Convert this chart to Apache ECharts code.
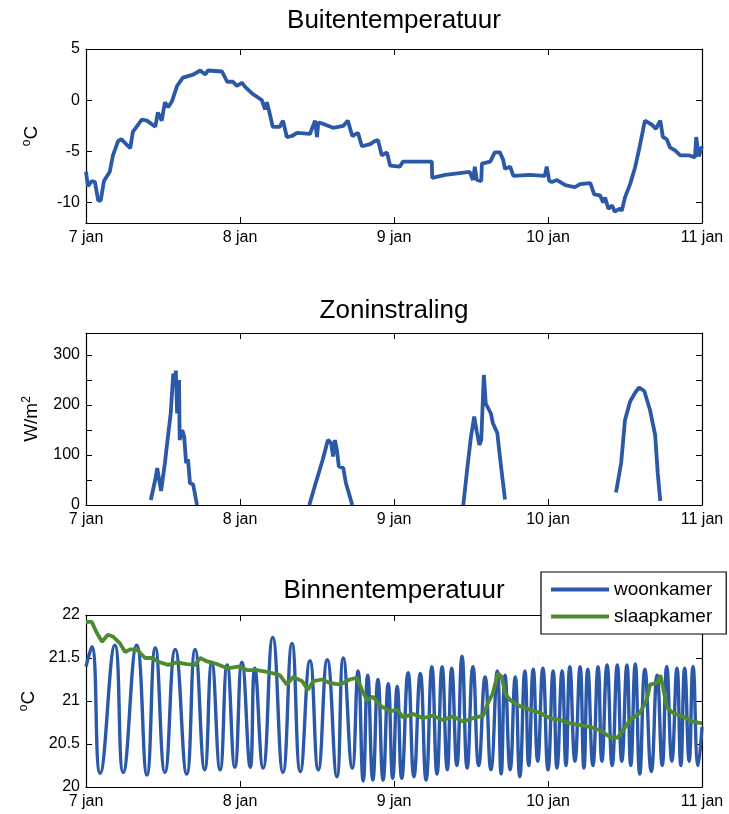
<!DOCTYPE html>
<html>
<head>
<meta charset="utf-8">
<script src="https://cdn.jsdelivr.net/npm/echarts@6/dist/echarts.min.js"></script>
<style>
html, body { margin: 0; padding: 0; background: #fff; }
#chart { width: 729px; height: 814px; }
</style>
</head>
<body>
<div id="chart"></div>
<script>
// tijd in uren vanaf 7 jan 00:00
var dagTicks = [0, 24, 48, 72, 96];

// Buitentemperatuur
var buitenTijd = [0, 0.3, 0.9, 1.4, 1.9, 2.3, 2.8, 3.7, 4.2, 5.0,
    5.5, 6.9, 7.3, 8.7, 9.5, 10.8, 11.2, 11.8, 12.3, 12.8,
    13.4, 14.2, 15.1, 16.7, 17.8, 18.6, 19.0, 21.2, 22.0, 22.9,
    23.5, 24.3, 24.8, 26.0, 27.4, 27.9, 28.2, 28.7, 29.1, 30.2,
    30.7, 31.3, 32.1, 32.9, 34.9, 35.7, 36.0, 36.2, 36.9, 38.5,
    40.1, 40.8, 41.5, 42.4, 43.0, 44.3, 45.0, 45.5, 46.1, 46.9,
    47.4, 48.9, 49.4, 53.9, 53.95, 56.0, 59.8, 60.3, 60.6, 60.9,
    61.6, 61.7, 63.0, 63.7, 64.5, 65.0, 65.3, 66.1, 66.6, 69.2,
    71.5, 71.8, 72.2, 72.6, 73.4, 74.7, 75.4, 76.2, 77.0, 78.6,
    79.2, 80.1, 80.6, 80.9, 81.4, 82.0, 82.4, 83.2, 83.5, 84.0,
    84.8, 85.6, 86.3, 87.1, 88.2, 88.8, 89.5, 89.9, 90.5, 91.0,
    91.8, 92.6, 94.1, 94.9, 95.1, 95.5, 96.0];
var buitenTemp = [-7.0, -8.4, -7.9, -8.0, -9.8, -9.8, -7.9, -7.0, -5.4, -4.0,
    -3.8, -4.7, -3.1, -1.9, -2.0, -2.6, -1.2, -2.0, -0.2, -0.7,
    -0.1, 1.4, 2.2, 2.5, 2.9, 2.5, 2.9, 2.8, 1.8, 1.8,
    1.4, 1.7, 1.3, 0.6, 0.0, -0.9, -0.2, -1.5, -2.6, -2.6,
    -2.0, -3.6, -3.5, -3.2, -3.3, -2.0, -3.6, -2.2, -2.3, -2.7,
    -2.5, -2.0, -3.5, -3.2, -4.5, -4.3, -4.0, -3.9, -5.4, -5.1,
    -6.4, -6.5, -6.0, -6.0, -7.6, -7.3, -7.0, -7.8, -6.5, -7.8,
    -7.9, -6.2, -6.0, -5.1, -5.1, -5.8, -6.7, -6.5, -7.4, -7.3,
    -7.4, -6.5, -7.9, -8.0, -7.8, -8.3, -8.4, -8.5, -8.2, -8.1,
    -9.2, -9.3, -10.0, -9.5, -10.6, -10.3, -10.9, -10.6, -10.8, -9.5,
    -8.2, -6.5, -4.5, -2.0, -2.4, -2.8, -2.0, -3.6, -3.8, -4.6,
    -4.9, -5.4, -5.4, -5.6, -3.6, -5.5, -4.5];

// Zoninstraling (null = geen meting)
var zonTijd = [10.1, 10.8, 11.1, 11.4, 11.7, 12.3, 12.6, 12.9, 13.2, 13.6, 13.9, 14.0, 14.2, 14.5, 14.6, 15.0, 15.3, 15.6, 15.9, 16.2, 16.7, 17.3,
    24,
    34.8, 35.8, 36.9, 37.7, 38.2, 38.5, 38.8, 39.1, 39.4, 40.1, 40.5, 41.5,
    50,
    58.8, 59.4, 60.0, 60.5, 60.9, 61.3, 61.6, 62.0, 62.3, 63.1, 63.4, 64.1, 64.5, 64.8, 65.3,
    75,
    82.6, 83.4, 84.0, 84.8, 85.6, 86.2, 87.0, 87.9, 88.7, 89.1, 89.5];
var zonWaarde = [10, 51, 74, 51, 28, 84, 118, 117, 183, 263, 246, 269, 183, 250, 130, 150, 137, 84, 91, 44, 41, 0,
    null,
    0, 44, 91, 130, 124, 97, 130, 110, 77, 74, 44, 0,
    null,
    0, 71, 137, 177, 147, 120, 130, 260, 203, 183, 164, 144, 97, 64, 11,
    null,
    25, 84, 170, 207, 225, 235, 228, 190, 140, 64, 8];

// Binnentemperatuur
var woonTijd = [0.0, 0.9, 2.2, 4.5, 5.8, 7.9, 9.5, 10.8, 12.3, 13.9,
    15.7, 17.0, 18.5, 19.6, 20.9, 22.0, 23.2, 24.3, 25.6, 26.3,
    27.6, 29.1, 30.7, 32.1, 33.4, 34.9, 36.2, 37.6, 39.1, 40.1,
    41.5, 42.4, 43.2, 43.9, 44.7, 45.5, 46.3, 47.1, 47.8, 48.5,
    49.2, 50.2, 51.1, 52.1, 53.0, 53.9, 54.7, 55.5, 56.3, 57.0,
    57.8, 58.6, 59.4, 60.3, 61.2, 62.2, 63.1, 64.1, 64.7, 65.3,
    66.1, 66.9, 67.6, 68.4, 69.0, 69.7, 70.4, 71.2, 72.0, 72.8,
    73.4, 74.2, 74.8, 75.4, 76.2, 77.0, 77.6, 78.2, 79.0, 79.8,
    80.4, 81.2, 82.0, 82.8, 83.5, 84.3, 84.9, 85.6, 86.3, 87.1,
    88.1, 89.0, 89.8, 90.5, 91.3, 92.1, 92.7, 93.3, 94.0, 94.6,
    95.4, 96.0];
var woonTemp = [21.40, 21.63, 20.16, 21.65, 20.17, 21.65, 20.14, 21.62, 20.17, 21.60,
    20.15, 21.60, 20.20, 21.45, 20.20, 21.42, 20.23, 21.45, 20.23, 21.38,
    20.22, 21.74, 20.17, 21.67, 20.18, 21.47, 20.20, 21.48, 20.12, 21.50,
    20.22, 21.35, 20.07, 21.30, 20.08, 21.25, 20.08, 21.20, 20.10, 21.17,
    20.10, 21.33, 20.12, 21.32, 20.08, 21.40, 20.15, 21.40, 20.20, 21.38,
    20.25, 21.52, 20.22, 21.40, 20.25, 21.28, 20.20, 21.35, 20.15, 21.30,
    20.20, 21.28, 20.12, 21.35, 20.25, 21.37, 20.30, 21.38, 20.20, 21.35,
    20.22, 21.35, 20.25, 21.40, 20.30, 21.40, 20.22, 21.37, 20.25, 21.40,
    20.30, 21.42, 20.25, 21.42, 20.30, 21.42, 20.25, 21.43, 20.15, 21.37,
    20.18, 21.30, 20.25, 21.40, 20.30, 21.38, 20.25, 21.38, 20.30, 21.40,
    20.25, 20.70];
var slaapTijd = [0.0, 0.9, 1.7, 2.5, 3.4, 4.2, 5.3, 6.1, 6.9, 7.9,
    9.2, 10.3, 11.5, 12.8, 14.2, 15.7, 17.0, 17.8, 18.9, 20.4,
    22.0, 23.7, 25.1, 26.6, 28.2, 30.2, 31.3, 32.3, 33.7, 34.6,
    35.4, 36.8, 38.0, 39.6, 41.1, 42.2, 43.0, 43.8, 44.7, 45.8,
    47.4, 48.5, 49.4, 51.0, 52.5, 54.1, 55.6, 57.2, 58.8, 60.3,
    61.9, 62.6, 63.4, 64.2, 64.8, 65.3, 66.1, 67.6, 69.2, 70.8,
    72.3, 73.9, 75.4, 77.0, 78.5, 80.1, 81.7, 82.8, 83.7, 84.8,
    86.3, 87.4, 87.9, 89.0, 89.5, 89.9, 90.5, 91.5, 93.0, 94.6, 96.0];
var slaapTemp = [21.92, 21.92, 21.79, 21.69, 21.77, 21.75, 21.67, 21.57, 21.60, 21.60,
    21.50, 21.50, 21.45, 21.42, 21.45, 21.43, 21.42, 21.50, 21.46, 21.43,
    21.38, 21.40, 21.36, 21.36, 21.34, 21.30, 21.19, 21.28, 21.23, 21.13,
    21.23, 21.25, 21.21, 21.19, 21.25, 21.27, 21.13, 21.01, 21.05, 20.95,
    20.88, 20.90, 20.81, 20.85, 20.80, 20.83, 20.78, 20.82, 20.76, 20.80,
    20.83, 20.97, 21.09, 21.32, 21.28, 21.09, 21.01, 20.94, 20.90, 20.86,
    20.80, 20.78, 20.74, 20.72, 20.70, 20.66, 20.58, 20.57, 20.66, 20.78,
    20.86, 21.01, 21.19, 21.21, 21.30, 21.17, 20.93, 20.86, 20.82, 20.76, 20.74];

var blauw = '#2c58a8';
var groen = '#4e8a30';
var font = 'Liberation Sans, Arial, Helvetica, sans-serif';

function paren(xs, ys) {
    return xs.map(function (x, i) { return [x, ys[i]]; });
}

function xAs(g, pos) {
    return {
        type: 'value', gridIndex: g, position: pos, min: 0, max: 96,
        axisLine: { show: true, onZero: false, lineStyle: { color: '#000', width: 1.2 } },
        axisTick: { show: true, inside: true, length: 6, customValues: dagTicks, lineStyle: { color: '#000' } },
        axisLabel: {
            show: pos === 'bottom', customValues: dagTicks, margin: 7,
            color: '#000', fontSize: 16, fontFamily: font,
            formatter: function (v) { return (7 + v / 24) + ' jan'; }
        },
        splitLine: { show: false }
    };
}

function yAs(g, pos, min, max, ticks, labels, naam) {
    var as = {
        type: 'value', gridIndex: g, position: pos, min: min, max: max,
        axisLine: { show: true, onZero: false, lineStyle: { color: '#000', width: 1.2 } },
        axisTick: { show: true, inside: true, length: 6, customValues: ticks, lineStyle: { color: '#000' } },
        axisLabel: {
            show: pos === 'left', customValues: labels, margin: 6,
            color: '#000', fontSize: 16, fontFamily: font
        },
        splitLine: { show: false }
    };
    if (naam) {
        as.name = naam;
        as.nameLocation = 'middle';
        as.nameGap = 44;
        as.nameTextStyle = {
            color: '#000', fontSize: 19, fontFamily: font,
            rich: {
                n: { fontSize: 19, fontFamily: font, color: '#000' },
                sup: { fontSize: 12, fontFamily: font, color: '#000', verticalAlign: 'top', padding: [0, 0, 9, 0] }
            }
        };
    }
    return as;
}

var titelStijl = { color: '#000', fontSize: 26, fontWeight: 'normal', fontFamily: font };

var chart = echarts.init(document.getElementById('chart'));
chart.setOption({
    backgroundColor: '#fff',
    animation: false,
    title: [
        { text: 'Buitentemperatuur', left: 394, top: 8, textAlign: 'center', padding: 0, textStyle: titelStijl },
        { text: 'Zoninstraling', left: 394, top: 298, textAlign: 'center', padding: 0, textStyle: titelStijl },
        { text: 'Binnentemperatuur', left: 394, top: 578, textAlign: 'center', padding: 0, textStyle: titelStijl }
    ],
    grid: [
        { left: 86, right: 27, top: 49, height: 174 },
        { left: 86, right: 27, top: 333, height: 172 },
        { left: 86, right: 27, top: 615, height: 172 }
    ],
    xAxis: [
        xAs(0, 'bottom'), xAs(0, 'top'),
        xAs(1, 'bottom'), xAs(1, 'top'),
        xAs(2, 'bottom'), xAs(2, 'top')
    ],
    yAxis: [
        yAs(0, 'left', -12, 5, [-10, -5, 0, 5], [-10, -5, 0, 5], '{sup|o}{n|C}'),
        yAs(0, 'right', -12, 5, [-10, -5, 0, 5], [], null),
        yAs(1, 'left', 0, 344, [0, 50, 100, 150, 200, 250, 300], [0, 100, 200, 300], '{n|W/m}{sup|2}'),
        yAs(1, 'right', 0, 344, [0, 50, 100, 150, 200, 250, 300], [], null),
        yAs(2, 'left', 20, 22, [20, 20.5, 21, 21.5, 22], [20, 20.5, 21, 21.5, 22], '{sup|o}{n|C}'),
        yAs(2, 'right', 20, 22, [20, 20.5, 21, 21.5, 22], [], null)
    ],
    legend: {
        data: ['woonkamer', 'slaapkamer'],
        orient: 'vertical',
        left: 541, top: 572,
        icon: 'rect', itemWidth: 58, itemHeight: 4, itemGap: 8,
        padding: [8, 14, 8, 10],
        backgroundColor: '#fff',
        borderColor: '#000', borderWidth: 1.2, borderRadius: 0,
        textStyle: { color: '#000', fontSize: 19, fontFamily: font }
    },
    series: [
        {
            name: 'buiten', type: 'line', xAxisIndex: 0, yAxisIndex: 0,
            data: paren(buitenTijd, buitenTemp), showSymbol: false,
            lineStyle: { color: blauw, width: 3.8 }, itemStyle: { color: blauw }
        },
        {
            name: 'zon', type: 'line', xAxisIndex: 2, yAxisIndex: 2,
            data: paren(zonTijd, zonWaarde), showSymbol: false,
            lineStyle: { color: blauw, width: 3.8 }, itemStyle: { color: blauw }
        },
        {
            name: 'woonkamer', type: 'line', xAxisIndex: 4, yAxisIndex: 4,
            data: paren(woonTijd, woonTemp), showSymbol: false, smooth: 0.5,
            lineStyle: { color: blauw, width: 3.4 }, itemStyle: { color: blauw }
        },
        {
            name: 'slaapkamer', type: 'line', xAxisIndex: 4, yAxisIndex: 4,
            data: paren(slaapTijd, slaapTemp), showSymbol: false,
            lineStyle: { color: groen, width: 3.8 }, itemStyle: { color: groen }
        }
    ]
});
</script>
</body>
</html>
